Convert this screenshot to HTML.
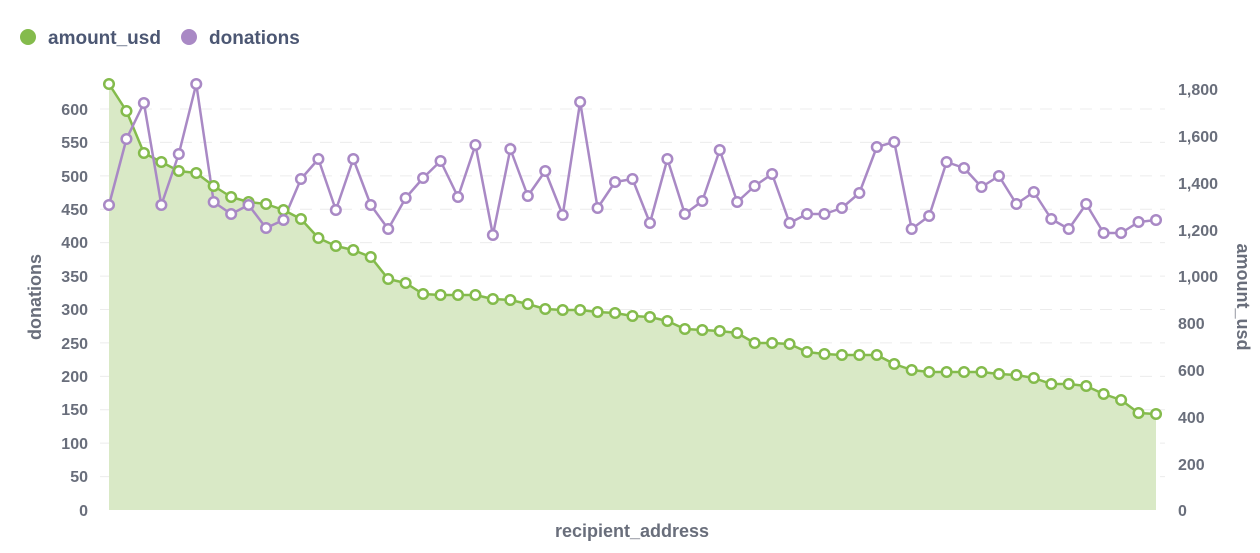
<!DOCTYPE html>
<html><head><meta charset="utf-8"><style>
body{margin:0;background:#fff;width:1260px;height:553px;overflow:hidden}
svg{display:block;font-family:"Liberation Sans",sans-serif;font-weight:bold}
.lt{fill:#696e7b;font-size:16px}
.lg{fill:#4c5773;font-size:19px}
</style></head><body>
<svg id="s" width="1260" height="553" xmlns="http://www.w3.org/2000/svg">
<g id="grid" stroke="#ececec" stroke-width="1" stroke-dasharray="12,8"></g>
<path id="area" fill="#d9e9c6"></path>
<polyline id="gl" fill="none" stroke="#84bb4c" stroke-width="2.5" stroke-linejoin="round"></polyline>
<polyline id="pl" fill="none" stroke="#a989c5" stroke-width="2.5" stroke-linejoin="round"></polyline>
<g id="gm" fill="#fff" stroke="#84bb4c" stroke-width="2.5"></g>
<g id="pm" fill="#fff" stroke="#a989c5" stroke-width="2.5"></g>
<circle cx="28" cy="37" r="8" fill="#84bb4c"/>
<text class="lg" x="48" y="44">amount_usd</text>
<circle cx="189" cy="37" r="8" fill="#a989c5"/>
<text class="lg" x="209" y="44">donations</text>
<g class="lt" text-anchor="end">
<text x="88" y="115">600</text><text x="88" y="148">550</text><text x="88" y="182">500</text><text x="88" y="215">450</text><text x="88" y="248">400</text><text x="88" y="282">350</text><text x="88" y="315">300</text><text x="88" y="349">250</text><text x="88" y="382">200</text><text x="88" y="415">150</text><text x="88" y="449">100</text><text x="88" y="482">50</text><text x="88" y="516">0</text>
</g>
<g class="lt" text-anchor="start">
<text x="1178" y="95">1,800</text><text x="1178" y="142">1,600</text><text x="1178" y="189">1,400</text><text x="1178" y="236">1,200</text><text x="1178" y="282">1,000</text><text x="1178" y="329">800</text><text x="1178" y="376">600</text><text x="1178" y="423">400</text><text x="1178" y="470">200</text><text x="1178" y="516">0</text>
</g>
<text class="lt" style="font-size:18px" transform="translate(41,297) rotate(-90)" text-anchor="middle">donations</text>
<text class="lt" style="font-size:18px" transform="translate(1237,297) rotate(90)" text-anchor="middle">amount_usd</text>
<text class="lt" style="font-size:18px" x="632" y="537" text-anchor="middle">recipient_address</text>
</svg>
<script>
var P=[205,139,103,205,154,84,202,214,205,228,220,179,159,210,159,205,229,198,178,161,197,145,235,149,196,171,215,102,208,182,179,223,159,214,201,150,202,186,174,223,214,214,208,193,147,142,229,216,162,168,187,176,204,192,219,229,204,233,233,222,220];
var G=[84,111,153,162,171,173,186,197,202,204,210,219,238,246,250,257,279,283,294,295,295,295,299,300,304,309,310,310,312,313,316,317,321,329,330,331,333,343,343,344,352,354,355,355,355,364,370,372,372,372,372,374,375,378,384,384,386,394,400,413,414];
var ns="http://www.w3.org/2000/svg";
function X(i){return 109+i*(1156-109)/60;}
var g=document.getElementById('grid');
for(var k=0;k<12;k++){var y=109+k*401/12;var l=document.createElementNS(ns,'line');l.setAttribute('x1',100);l.setAttribute('x2',1165);l.setAttribute('y1',y);l.setAttribute('y2',y);g.appendChild(l);}
var gp=G.map(function(v,i){return X(i)+','+v}).join(' ');
var pp=P.map(function(v,i){return X(i)+','+v}).join(' ');
document.getElementById('gl').setAttribute('points',gp);
document.getElementById('pl').setAttribute('points',pp);
document.getElementById('area').setAttribute('d','M109,510 L'+gp.split(' ').join(' L')+' L1156,510 Z');
function mk(id,arr){var e=document.getElementById(id);arr.forEach(function(v,i){var c=document.createElementNS(ns,'circle');c.setAttribute('cx',X(i));c.setAttribute('cy',v);c.setAttribute('r',4.8);e.appendChild(c);});}
mk('gm',G);mk('pm',P);
</script>
</body></html>
